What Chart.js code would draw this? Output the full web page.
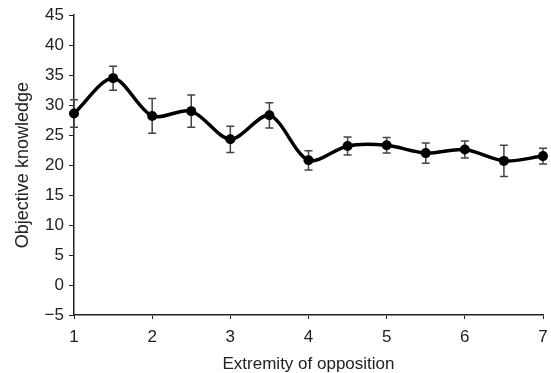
<!DOCTYPE html>
<html>
<head>
<meta charset="utf-8">
<script src="https://cdn.jsdelivr.net/npm/chart.js@4"></script>
<style>
    html, body { margin: 0; padding: 0; background: #fff; }
    #wrap { width: 551px; height: 373px; }
</style>
</head>
<body>
<div id="wrap"><canvas id="knowledgeChart" width="551" height="373"></canvas></div>
<script>
// ======================= Data =======================
const extremity = [1, 1.5, 2, 2.5, 3, 3.5, 4, 4.5, 5, 5.5, 6, 6.5, 7];
const knowledge = [28.6, 34.5, 28.2, 29.0, 24.3, 28.3, 20.8, 23.2, 23.3, 22.0, 22.6, 20.7, 21.5];
const errors = [2.3, 2.0, 2.9, 2.7, 2.2, 2.1, 1.6, 1.5, 1.3, 1.7, 1.4, 2.6, 1.3];
const xTicks = [1, 2, 3, 4, 5, 6, 7];
const yTicks = [-5, 0, 5, 10, 15, 20, 25, 30, 35, 40, 45];

const fontFamily = "'Liberation Sans', Arial, sans-serif";

// draws the error bars under the line and points
const errorBarPlugin = {
    id: "errorBars",
    beforeDatasetsDraw(chart) {
        const ctx = chart.ctx;
        const xs = chart.scales.x;
        const ys = chart.scales.y;
        ctx.save();
        ctx.strokeStyle = "#444";
        ctx.lineWidth = 1.5;
        extremity.forEach((x, i) => {
            const px = xs.getPixelForValue(x);
            const top = ys.getPixelForValue(knowledge[i] + errors[i]);
            const bottom = ys.getPixelForValue(knowledge[i] - errors[i]);
            ctx.beginPath();
            ctx.moveTo(px, top);
            ctx.lineTo(px, bottom);
            ctx.moveTo(px - 4, top);
            ctx.lineTo(px + 4, top);
            ctx.moveTo(px - 4, bottom);
            ctx.lineTo(px + 4, bottom);
            ctx.stroke();
        });
        ctx.restore();
    }
};

new Chart(document.getElementById("knowledgeChart"), {
    type: "line",
    data: {
        datasets: [{
            label: "Objective knowledge",
            data: extremity.map((x, i) => ({ x: x, y: knowledge[i] })),
            borderColor: "#000",
            backgroundColor: "#000",
            borderWidth: 3.5,
            tension: 0.3,
            pointRadius: 5,
            pointBackgroundColor: "#000",
            pointBorderWidth: 0,
            clip: false
        }]
    },
    options: {
        responsive: false,
        animation: false,
        layout: { padding: { top: 15, right: 8, left: 0, bottom: 0 } },
        plugins: {
            legend: { display: false },
            tooltip: { enabled: false }
        },
        scales: {
            x: {
                type: "linear",
                min: 1,
                max: 7,
                afterBuildTicks: axis => { axis.ticks = xTicks.map(v => ({ value: v })); },
                afterFit: axis => { axis.height = 58; axis.paddingRight = 0; axis.paddingLeft = 0; },
                grid: { drawOnChartArea: false, drawTicks: true, tickLength: 4, color: "#222" },
                border: { color: "#222", width: 1.5 },
                ticks: { color: "#222", padding: 8, font: { family: fontFamily, size: 17 } },
                title: {
                    display: true,
                    text: "Extremity of opposition",
                    color: "#222",
                    padding: { top: 0, bottom: 0 },
                    font: { family: fontFamily, size: 17, lineHeight: 1.0 }
                }
            },
            y: {
                type: "linear",
                min: -5,
                max: 45,
                afterBuildTicks: axis => { axis.ticks = yTicks.map(v => ({ value: v })); },
                afterFit: axis => { axis.width = 74; },
                grid: { drawOnChartArea: false, drawTicks: true, tickLength: 5, color: "#222" },
                border: { color: "#222", width: 1.5 },
                ticks: {
                    color: "#222",
                    padding: 5,
                    font: { family: fontFamily, size: 17 },
                    callback: v => String(v).replace("-", "\u2212")
                },
                title: {
                    display: true,
                    text: "Objective knowledge",
                    color: "#222",
                    padding: { top: 12, bottom: 0 },
                    font: { family: fontFamily, size: 18 }
                }
            }
        }
    },
    plugins: [errorBarPlugin]
});
</script>
</body>
</html>
